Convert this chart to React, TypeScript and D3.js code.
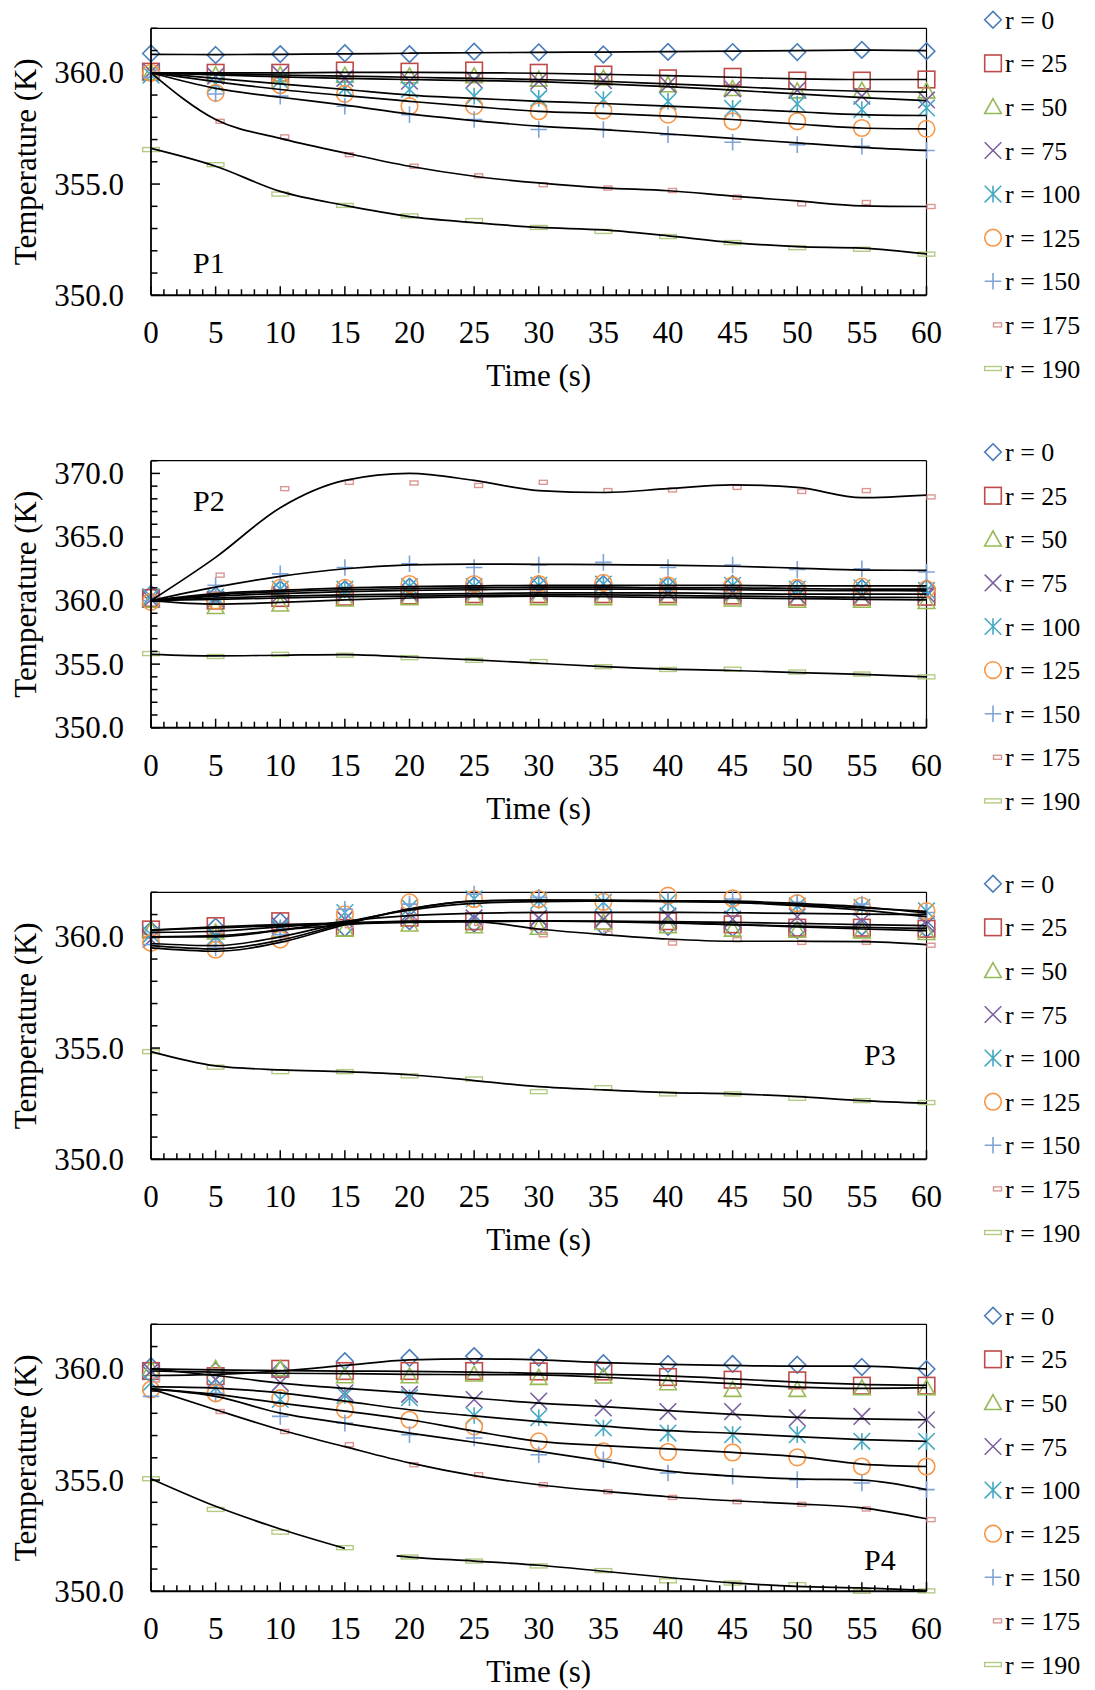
import React from 'react';
import * as d3 from 'd3';

// time grid (s)
const TIMES = [0, 5, 10, 15, 20, 25, 30, 35, 40, 45, 50, 55, 60];

const SERIES_LABELS = ['r = 0', 'r = 25', 'r = 50', 'r = 75', 'r = 100', 'r = 125', 'r = 150', 'r = 175', 'r = 190'];
const SERIES_COLORS = ['#4A7EBB', '#BE4B48', '#98B954', '#7D60A0', '#46AAC5', '#F79646', '#7FA3D6', '#DB9694', '#B3CC85'];
const SERIES_SHAPES = ['diamond', 'square', 'triangle', 'cross', 'star', 'circle', 'plus', 'dash', 'longDash'];

// ── P1 ──────────────────────────────────────────────────────────────
const P1_MEAS = [
  [360.87, 360.80, 360.84, 360.88, 360.84, 360.95, 360.92, 360.82, 360.94, 360.93, 360.93, 361.03, 360.97],
  [360.05, 360.00, 360.00, 360.10, 360.05, 360.10, 360.00, 359.92, 359.75, 359.82, 359.65, 359.65, 359.70],
  [360.00, 359.90, 359.90, 359.88, 359.85, 359.85, 359.70, 359.75, 359.45, 359.28, 359.17, 359.20, 359.17],
  [360.05, 359.85, 359.95, 359.75, 359.62, 359.68, 359.62, 359.65, 359.47, 359.28, 359.22, 358.95, 358.78],
  [359.90, 359.50, 359.65, 359.30, 359.25, 358.95, 358.85, 358.80, 358.72, 358.40, 358.60, 358.35, 358.42],
  [360.00, 359.10, 359.45, 359.05, 358.50, 358.50, 358.27, 358.30, 358.12, 357.82, 357.82, 357.52, 357.48],
  [359.80, 359.05, 358.95, 358.50, 358.12, 357.90, 357.45, 357.45, 357.22, 356.88, 356.77, 356.70, 356.51],
  [360.00, 357.82, 357.12, 356.32, 355.80, 355.37, 354.97, 354.82, 354.71, 354.41, 354.11, 354.17, 353.99],
  [356.55, 355.87, 354.55, 354.04, 353.57, 353.36, 353.05, 352.87, 352.64, 352.37, 352.14, 352.07, 351.85],
];
const P1_FIT = [
  [360.83, 360.82, 360.83, 360.85, 360.88, 360.90, 360.92, 360.93, 360.95, 360.97, 361.00, 361.02, 361.00],
  [360.00, 360.00, 360.00, 360.02, 360.02, 360.00, 359.98, 359.93, 359.87, 359.80, 359.73, 359.70, 359.70],
  [360.00, 359.95, 359.90, 359.85, 359.80, 359.75, 359.70, 359.62, 359.50, 359.38, 359.25, 359.17, 359.13],
  [360.00, 359.90, 359.82, 359.75, 359.70, 359.65, 359.60, 359.50, 359.38, 359.22, 359.05, 358.88, 358.75],
  [360.00, 359.75, 359.50, 359.25, 359.00, 358.85, 358.72, 358.62, 358.50, 358.38, 358.25, 358.12, 358.08],
  [360.00, 359.60, 359.25, 358.97, 358.72, 358.48, 358.27, 358.18, 358.05, 357.90, 357.70, 357.52, 357.48],
  [360.00, 359.30, 358.90, 358.55, 358.15, 357.85, 357.60, 357.45, 357.25, 357.05, 356.85, 356.65, 356.51],
  [360.00, 357.90, 357.05, 356.40, 355.80, 355.35, 355.05, 354.83, 354.70, 354.46, 354.24, 354.02, 353.99],
  [356.60, 355.80, 354.67, 354.04, 353.54, 353.27, 353.05, 352.94, 352.67, 352.37, 352.19, 352.12, 351.86],
];

// ── P2 ──────────────────────────────────────────────────────────────
const P2_MEAS = [
  [360.50, 360.40, 360.90, 360.90, 361.10, 361.20, 361.30, 361.30, 361.20, 361.30, 361.00, 361.00, 361.00],
  [360.20, 360.00, 360.20, 360.30, 360.40, 360.50, 360.50, 360.50, 360.50, 360.40, 360.30, 360.30, 360.30],
  [360.00, 359.50, 359.70, 360.10, 360.20, 360.20, 360.20, 360.20, 360.20, 360.10, 360.00, 360.00, 359.90],
  [360.10, 360.10, 360.50, 360.60, 360.60, 360.70, 360.70, 360.70, 360.60, 360.60, 360.40, 360.40, 360.50],
  [360.30, 360.30, 360.90, 360.90, 361.10, 361.10, 361.20, 361.30, 361.10, 361.20, 360.90, 361.00, 360.80],
  [359.90, 360.00, 361.00, 361.00, 361.30, 361.30, 361.30, 361.40, 361.20, 361.20, 361.00, 361.10, 360.90],
  [360.00, 361.20, 362.10, 362.60, 362.90, 362.60, 362.80, 363.00, 362.60, 362.80, 362.45, 362.50, 362.25],
  [360.20, 362.00, 368.80, 369.30, 369.25, 369.05, 369.30, 368.65, 368.70, 368.90, 368.58, 368.65, 368.15],
  [355.83, 355.60, 355.77, 355.70, 355.51, 355.30, 355.20, 354.80, 354.58, 354.60, 354.38, 354.22, 354.00],
];
const P2_FIT = [
  [360.00, 360.45, 360.70, 360.85, 360.95, 361.00, 361.05, 361.05, 361.00, 361.00, 360.95, 360.90, 360.90],
  [360.00, 360.10, 360.20, 360.30, 360.35, 360.40, 360.45, 360.45, 360.40, 360.35, 360.30, 360.25, 360.24],
  [360.00, 359.72, 359.85, 360.05, 360.20, 360.30, 360.35, 360.30, 360.25, 360.20, 360.15, 360.10, 360.05],
  [360.00, 360.20, 360.35, 360.45, 360.50, 360.55, 360.60, 360.60, 360.60, 360.55, 360.50, 360.50, 360.50],
  [360.00, 360.35, 360.55, 360.70, 360.80, 360.85, 360.90, 360.90, 360.90, 360.85, 360.80, 360.78, 360.76],
  [360.00, 360.55, 360.80, 361.00, 361.10, 361.15, 361.20, 361.20, 361.20, 361.20, 361.15, 361.15, 361.15],
  [360.00, 361.05, 361.90, 362.50, 362.80, 362.87, 362.85, 362.82, 362.78, 362.70, 362.55, 362.40, 362.38],
  [360.00, 363.40, 367.30, 369.45, 370.00, 369.45, 368.65, 368.50, 368.80, 369.10, 368.90, 368.10, 368.30],
  [355.77, 355.65, 355.70, 355.75, 355.56, 355.33, 355.07, 354.80, 354.60, 354.50, 354.33, 354.20, 353.99],
];

// ── P3 ──────────────────────────────────────────────────────────────
const P3_MEAS = [
  [360.30, 360.45, 360.70, 360.40, 360.70, 360.60, 360.50, 360.45, 360.45, 360.40, 360.30, 360.45, 360.35],
  [360.33, 360.48, 360.70, 360.40, 360.86, 360.70, 360.70, 360.71, 360.70, 360.56, 360.41, 360.41, 360.36],
  [360.30, 360.20, 360.30, 360.33, 360.56, 360.48, 360.41, 360.64, 360.48, 360.33, 360.28, 360.25, 360.18],
  [359.88, 360.00, 360.50, 360.79, 360.95, 360.85, 360.85, 360.79, 360.94, 360.79, 360.90, 360.71, 360.56],
  [360.10, 360.00, 360.40, 361.09, 361.32, 361.70, 361.62, 361.55, 361.55, 361.39, 361.39, 361.32, 361.16],
  [359.73, 359.42, 359.88, 361.01, 361.55, 361.70, 361.70, 361.57, 361.85, 361.73, 361.51, 361.39, 361.16],
  [359.65, 359.50, 360.10, 361.24, 361.47, 361.92, 361.77, 361.62, 361.62, 361.70, 361.55, 361.47, 361.09],
  [360.20, 360.30, 359.87, 360.50, 360.90, 360.60, 360.09, 360.16, 359.72, 359.87, 359.75, 359.75, 359.62],
  [354.84, 354.14, 353.94, 353.94, 353.75, 353.61, 353.04, 353.22, 352.94, 352.94, 352.74, 352.64, 352.55],
];
const P3_FIT = [
  [360.30, 360.45, 360.55, 360.62, 360.68, 360.70, 360.70, 360.68, 360.62, 360.55, 360.48, 360.42, 360.38],
  [360.30, 360.40, 360.50, 360.58, 360.65, 360.68, 360.70, 360.70, 360.68, 360.65, 360.60, 360.55, 360.50],
  [360.00, 360.05, 360.30, 360.55, 360.70, 360.72, 360.72, 360.70, 360.65, 360.55, 360.45, 360.35, 360.28],
  [360.00, 360.00, 360.30, 360.70, 360.95, 361.05, 361.10, 361.10, 361.10, 361.08, 361.05, 361.02, 361.00],
  [359.70, 359.60, 360.00, 360.65, 361.20, 361.50, 361.58, 361.60, 361.58, 361.55, 361.45, 361.30, 361.14],
  [359.60, 359.45, 359.85, 360.60, 361.25, 361.60, 361.65, 361.65, 361.62, 361.60, 361.50, 361.35, 361.06],
  [359.50, 359.35, 359.75, 360.55, 361.25, 361.60, 361.65, 361.62, 361.60, 361.55, 361.40, 361.20, 360.90],
  [360.20, 360.25, 360.45, 360.62, 360.70, 360.68, 360.35, 360.10, 359.90, 359.80, 359.80, 359.78, 359.65],
  [354.84, 354.20, 354.02, 353.94, 353.80, 353.54, 353.27, 353.12, 353.00, 352.94, 352.82, 352.64, 352.52],
];

// ── P4 ──────────────────────────────────────────────────────────────
const P4_MEAS = [
  [360.12, 359.90, 359.95, 360.34, 360.49, 360.57, 360.50, 360.25, 360.22, 360.22, 360.18, 360.08, 359.99],
  [359.90, 359.67, 360.00, 359.90, 359.90, 359.90, 359.88, 359.88, 359.63, 359.51, 359.48, 359.24, 359.24],
  [360.00, 360.00, 360.00, 359.67, 359.67, 359.75, 359.60, 359.66, 359.36, 359.06, 359.06, 359.13, 359.13],
  [359.90, 359.52, 359.37, 358.92, 358.85, 358.62, 358.55, 358.24, 358.08, 358.08, 357.79, 357.86, 357.71],
  [359.37, 359.15, 358.62, 358.80, 358.70, 357.90, 357.80, 357.34, 357.11, 357.04, 357.04, 356.74, 356.74],
  [359.07, 358.90, 358.68, 358.16, 357.71, 357.41, 356.74, 356.29, 356.26, 356.24, 356.02, 355.61, 355.61],
  [358.76, 358.90, 357.86, 357.56, 357.04, 356.89, 356.14, 355.91, 355.32, 355.17, 355.02, 354.87, 354.57],
  [359.50, 358.08, 357.18, 356.59, 355.69, 355.24, 354.79, 354.48, 354.22, 354.03, 353.91, 353.70, 353.22],
  [355.06, 353.68, 352.66, 351.96, 351.54, 351.36, 351.14, 350.93, 350.47, 350.37, 350.30, 350.00, 350.02],
];
const P4_FIT = [
  [359.70, 359.75, 359.90, 360.15, 360.40, 360.45, 360.40, 360.28, 360.20, 360.15, 360.12, 360.12, 359.99],
  [360.00, 359.95, 359.92, 359.90, 359.88, 359.85, 359.80, 359.75, 359.68, 359.55, 359.40, 359.30, 359.26],
  [359.90, 359.85, 359.80, 359.78, 359.75, 359.74, 359.73, 359.62, 359.48, 359.33, 359.18, 359.12, 359.15],
  [360.00, 359.70, 359.36, 359.12, 358.92, 358.68, 358.46, 358.30, 358.12, 357.95, 357.82, 357.75, 357.71],
  [359.20, 359.13, 358.92, 358.55, 358.16, 357.88, 357.63, 357.42, 357.22, 357.10, 356.95, 356.82, 356.74],
  [359.10, 358.85, 358.46, 358.10, 357.71, 357.20, 356.74, 356.55, 356.40, 356.24, 356.05, 355.72, 355.61],
  [359.10, 358.76, 358.01, 357.55, 357.11, 356.70, 356.29, 355.85, 355.40, 355.18, 355.05, 355.00, 354.57],
  [359.10, 358.16, 357.26, 356.50, 355.77, 355.20, 354.79, 354.50, 354.25, 354.07, 353.93, 353.75, 353.26],
];
// r = 190 fit in P4 is broken between 15 s and ~19 s
const P4_FIT_190_T = [0, 5, 10, 15, 17, 19, 20, 25, 30, 35, 40, 45, 50, 55, 60];
const P4_FIT_190 = [355.06, 353.82, 352.80, 351.93, null, 351.59, 351.54, 351.36, 351.17, 350.90, 350.62, 350.38, 350.22, 350.15, 350.04];

// ── Layout ──────────────────────────────────────────────────────────
const W = 1095;
const H = 1690;
const X0 = 151;
const X1 = 926.5;
const PH = 267;
const FONT = '"Liberation Serif", "Times New Roman", serif';

type PanelCfg = {
  name: string;
  top: number;
  yMax: number;
  meas: number[][];
  fit: (number | null)[][];
  fitTimes: number[][];
  labelX: number;
  labelDy: number;
};

const fitTimes = (extra?: number[]) => {
  const arr = SERIES_LABELS.map(() => TIMES);
  if (extra) arr[8] = extra;
  return arr;
};

const PANELS: PanelCfg[] = [
  { name: 'P1', top: 28.3, yMax: 362, meas: P1_MEAS, fit: P1_FIT, fitTimes: fitTimes(), labelX: 193, labelDy: 245 },
  { name: 'P2', top: 460.7, yMax: 371, meas: P2_MEAS, fit: P2_FIT, fitTimes: fitTimes(), labelX: 193, labelDy: 50 },
  { name: 'P3', top: 892.3, yMax: 362, meas: P3_MEAS, fit: P3_FIT, fitTimes: fitTimes(), labelX: 864, labelDy: 173 },
  { name: 'P4', top: 1324.3, yMax: 362, meas: P4_MEAS, fit: [...P4_FIT, P4_FIT_190], fitTimes: fitTimes(P4_FIT_190_T), labelX: 864, labelDy: 246 },
];

function Marker({ shape, cx, cy, color }: { shape: string; cx: number; cy: number; color: string }) {
  const s = 8.3;
  const common = { fill: 'none', stroke: color, strokeWidth: 1.6 };
  switch (shape) {
    case 'diamond':
      return <path d={`M${cx},${cy - s}L${cx + s},${cy}L${cx},${cy + s}L${cx - s},${cy}Z`} {...common} />;
    case 'square':
      return <rect x={cx - s} y={cy - s} width={2 * s} height={2 * s} {...common} />;
    case 'triangle':
      return <path d={`M${cx},${cy - s}L${cx + s},${cy + s * 0.8}L${cx - s},${cy + s * 0.8}Z`} {...common} />;
    case 'cross':
      return <path d={`M${cx - s},${cy - s}L${cx + s},${cy + s}M${cx - s},${cy + s}L${cx + s},${cy - s}`} {...common} />;
    case 'star':
      return (
        <path
          d={`M${cx - s},${cy - s}L${cx + s},${cy + s}M${cx - s},${cy + s}L${cx + s},${cy - s}M${cx},${cy - s}L${cx},${cy + s}`}
          {...common}
        />
      );
    case 'circle':
      return <circle cx={cx} cy={cy} r={s} {...common} />;
    case 'plus':
      return <path d={`M${cx - s},${cy}L${cx + s},${cy}M${cx},${cy - s}L${cx},${cy + s}`} {...common} />;
    case 'dash':
      return <rect x={cx + 0.5} y={cy - 2} width={8} height={4} {...common} strokeWidth={1.4} />;
    case 'longDash':
      return <rect x={cx - s} y={cy - 2} width={2 * s} height={4} {...common} strokeWidth={1.4} />;
    default:
      return null;
  }
}

function Panel({ cfg }: { cfg: PanelCfg }) {
  const bottom = cfg.top + PH;
  const x = d3.scaleLinear().domain([0, 60]).range([X0, X1]);
  const y = d3.scaleLinear().domain([350, cfg.yMax]).range([bottom, cfg.top]);
  const line = d3
    .line<[number, number | null]>()
    .defined((d) => d[1] != null)
    .x((d) => x(d[0]))
    .y((d) => y(d[1] as number))
    .curve(d3.curveMonotoneX);

  const xMinor = d3.range(0, 61, 1);
  const yMinor = d3.range(350, cfg.yMax + 0.001, 1);
  const yMajor = d3.range(350, cfg.yMax + 0.001, 5);
  const midY = (cfg.top + bottom) / 2;

  return (
    <g>
      {/* frame */}
      <line x1={X0} x2={X1} y1={cfg.top} y2={cfg.top} stroke="#000" strokeWidth={1.3} />
      <line x1={X1} x2={X1} y1={cfg.top} y2={bottom} stroke="#000" strokeWidth={1.2} />

      {/* measured markers */}
      {cfg.meas.map((vals, si) =>
        vals.map((v, i) => (
          <Marker key={`m${si}-${i}`} shape={SERIES_SHAPES[si]} cx={x(TIMES[i])} cy={y(v)} color={SERIES_COLORS[si]} />
        )),
      )}

      {/* fitted curves */}
      {cfg.fit.map((vals, si) => (
        <path
          key={`f${si}`}
          d={line(vals.map((v, i) => [cfg.fitTimes[si][i], v] as [number, number | null])) || ''}
          fill="none"
          stroke="#000"
          strokeWidth={1.7}
        />
      ))}

      {/* axes */}
      <line x1={X0} x2={X0} y1={cfg.top} y2={bottom} stroke="#000" strokeWidth={1.8} />
      <line x1={X0} x2={X1} y1={bottom} y2={bottom} stroke="#000" strokeWidth={2} />
      {yMinor.map((v) => (
        <line key={`yt${v}`} x1={X0} x2={X0 + (v % 5 === 0 ? 9 : 6.5)} y1={y(v)} y2={y(v)} stroke="#000" strokeWidth={1.5} />
      ))}
      {xMinor.map((t) => (
        <line key={`xt${t}`} x1={x(t)} x2={x(t)} y1={bottom} y2={bottom - (t % 5 === 0 ? 9 : 6)} stroke="#000" strokeWidth={1.5} />
      ))}
      {yMajor.map((v) => (
        <text key={`yl${v}`} x={124} y={y(v) + 10.5} textAnchor="end" fontSize={31} fontFamily={FONT}>
          {v.toFixed(1)}
        </text>
      ))}
      {TIMES.map((t) => (
        <text key={`xl${t}`} x={x(t)} y={bottom + 48} textAnchor="middle" fontSize={31} fontFamily={FONT}>
          {t}
        </text>
      ))}
      <text x={(X0 + X1) / 2} y={bottom + 91} textAnchor="middle" fontSize={31} fontFamily={FONT}>
        Time (s)
      </text>
      <text transform={`translate(36,${midY}) rotate(-90)`} textAnchor="middle" fontSize={31} fontFamily={FONT}>
        Temperature (K)
      </text>
      <text x={cfg.labelX} y={cfg.top + cfg.labelDy} fontSize={30} fontFamily={FONT}>
        {cfg.name}
      </text>

      {/* legend */}
      {SERIES_LABELS.map((lab, si) => {
        const cy = cfg.top - 8.6 + si * 43.6;
        return (
          <g key={`lg${si}`}>
            <Marker shape={SERIES_SHAPES[si]} cx={993} cy={cy} color={SERIES_COLORS[si]} />
            <text x={1005} y={cy + 9} fontSize={26} fontFamily={FONT}>
              {lab}
            </text>
          </g>
        );
      })}
    </g>
  );
}

export default function App() {
  return (
    <svg
      width={W}
      height={H}
      viewBox={`0 0 ${W} ${H}`}
      style={{ position: 'absolute', left: 0, top: 0, background: '#fff' }}
    >
      <rect width={W} height={H} fill="#fff" />
      {PANELS.map((p) => (
        <Panel key={p.name} cfg={p} />
      ))}
    </svg>
  );
}
